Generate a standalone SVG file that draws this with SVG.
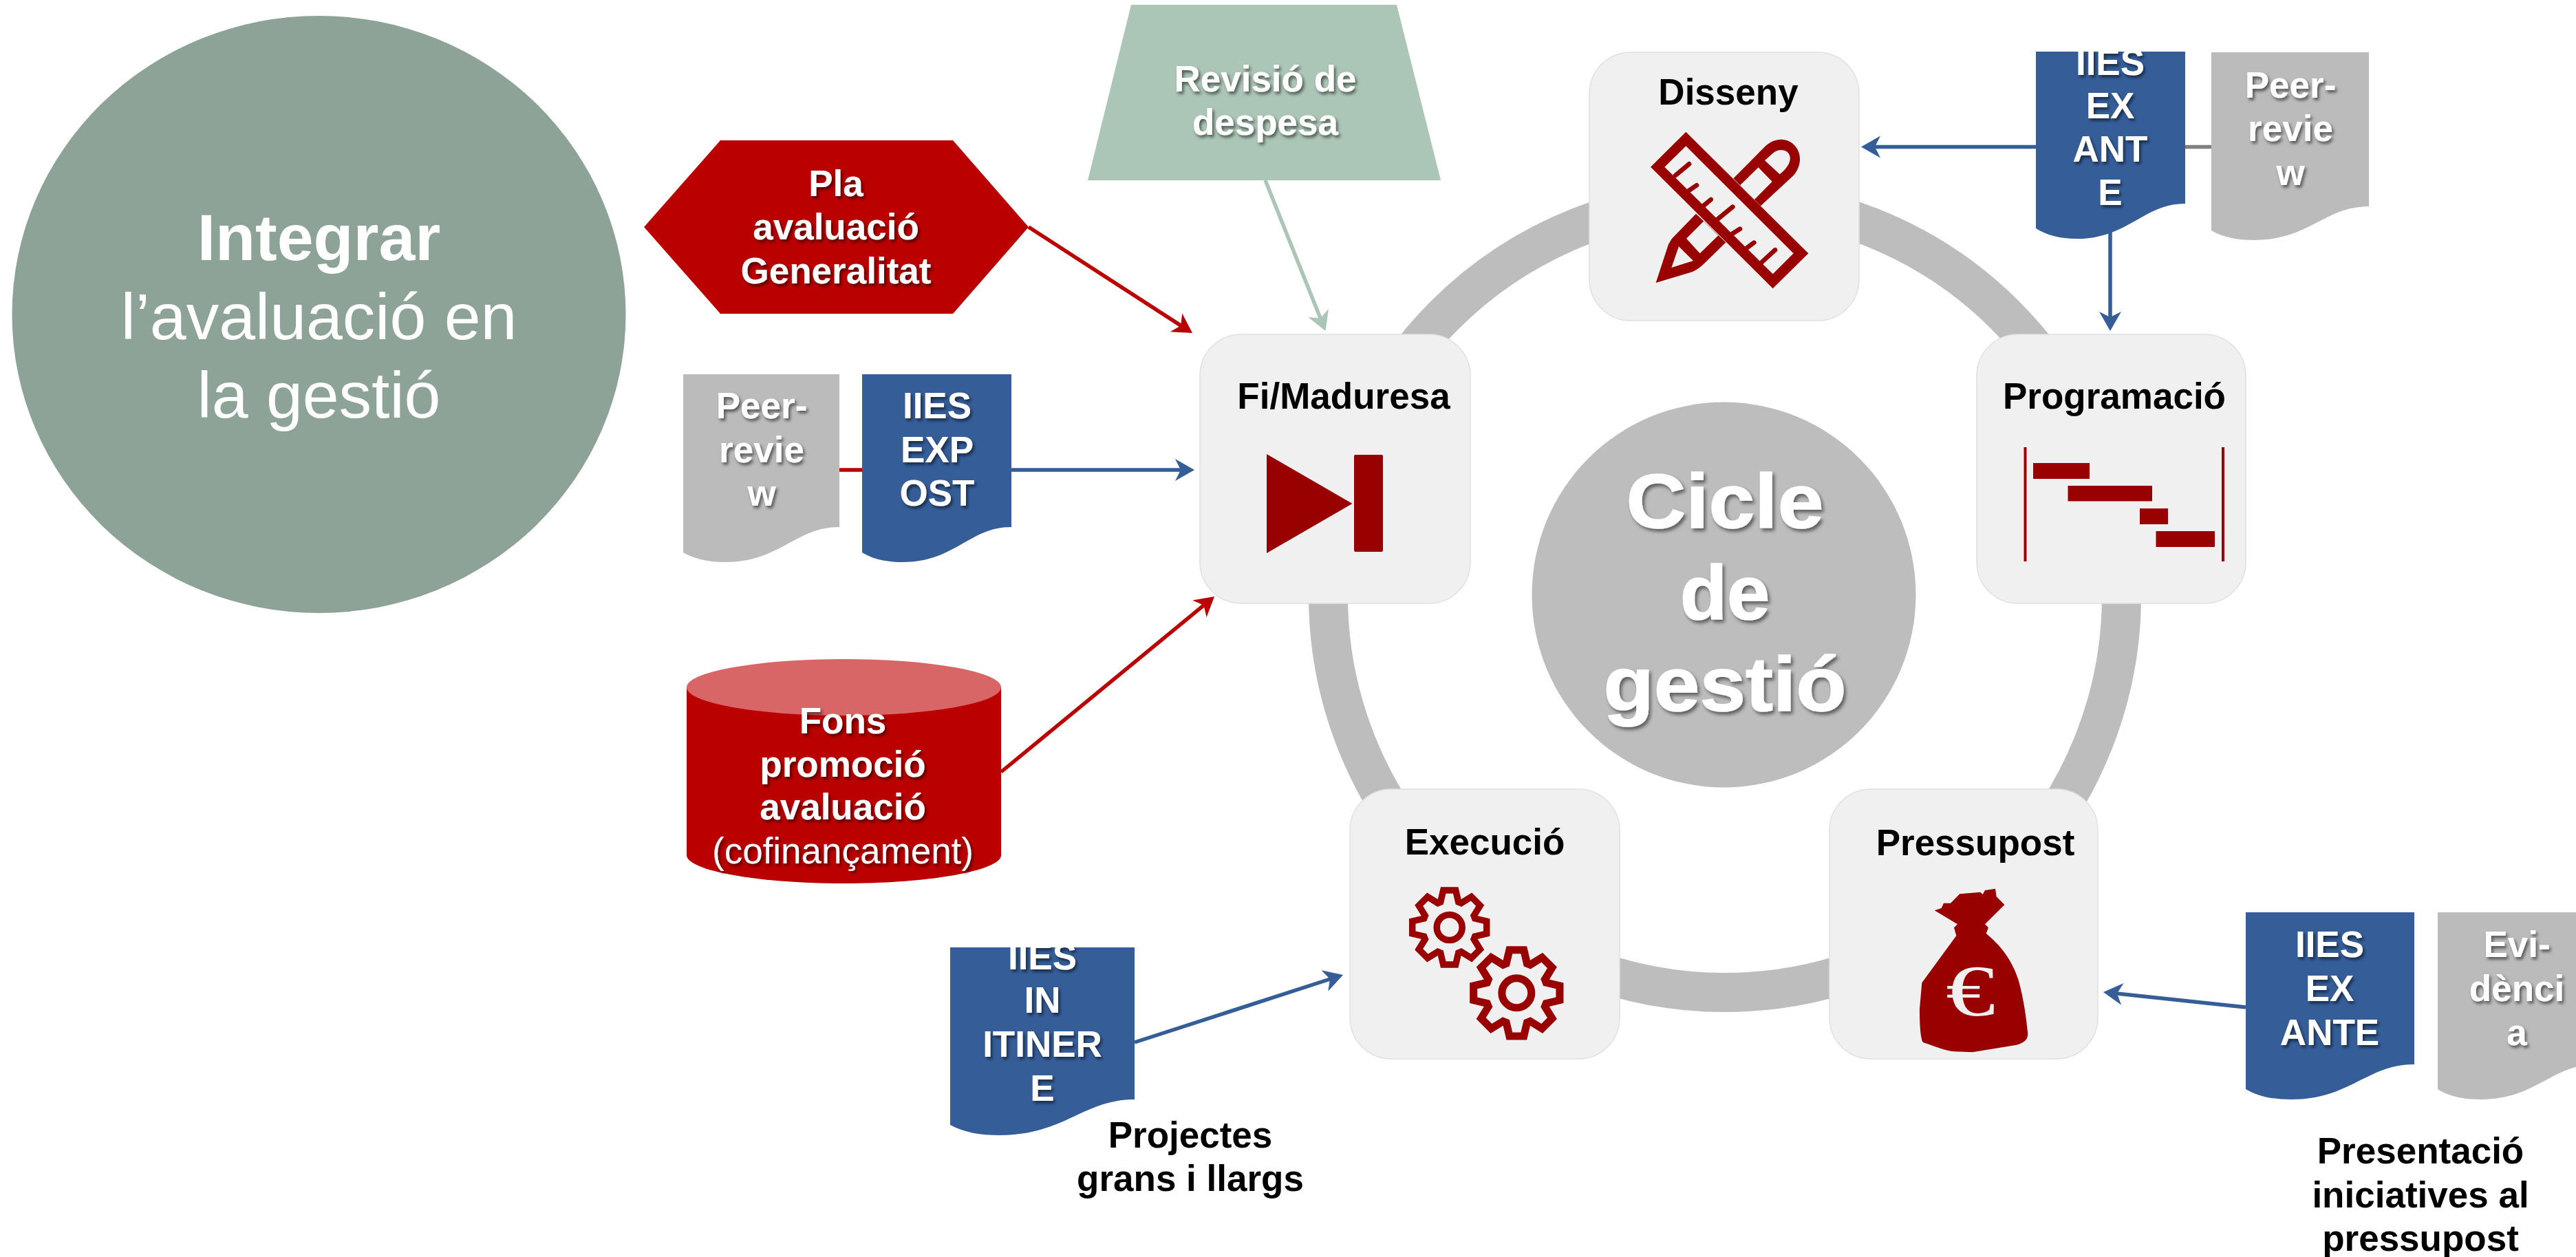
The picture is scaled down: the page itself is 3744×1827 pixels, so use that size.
<svg xmlns="http://www.w3.org/2000/svg" xmlns:xlink="http://www.w3.org/1999/xlink" width="3744" height="1827" viewBox="0 0 3744 1827">
<style>
text{font-family:"Liberation Sans",Arial,sans-serif;text-anchor:middle}
.b{font-weight:700;font-size:53px}
.k{fill:#000}
.w{fill:#fff;filter:url(#sh)}
.big{font-size:95px;fill:#fff}
.cyc{font-weight:700;font-size:112px;fill:#fff;stroke:#fff;stroke-width:1.5;filter:url(#sh2)}
.node{fill:#f0f0f0;stroke:#e0e0e0;stroke-width:1.5}
.blue{fill:#355e99}
.grey{fill:#bbb}
.ico{fill:#990000}
.gear{fill:none;stroke:#990000;stroke-width:9.5}
.ln{fill:none;stroke-width:5.5}
</style>
<defs>
<filter id="sh" x="-20%" y="-20%" width="140%" height="150%"><feDropShadow dx="2.5" dy="3.5" stdDeviation="2" flood-color="#000" flood-opacity=".55"/></filter>
<filter id="sh2" x="-20%" y="-20%" width="140%" height="150%"><feDropShadow dx="3" dy="4" stdDeviation="2.5" flood-color="#000" flood-opacity=".5"/></filter>
<marker id="aB" markerUnits="userSpaceOnUse" markerWidth="42" markerHeight="36" viewBox="0 0 42 36" refX="20" refY="18" orient="auto"><path d="M30,18L2,2L10,18L2,34Z" fill="#355e99"/></marker>
<marker id="aR" markerUnits="userSpaceOnUse" markerWidth="42" markerHeight="36" viewBox="0 0 42 36" refX="20" refY="18" orient="auto"><path d="M30,18L2,2L10,18L2,34Z" fill="#bb0000"/></marker>
<marker id="aG" markerUnits="userSpaceOnUse" markerWidth="42" markerHeight="36" viewBox="0 0 42 36" refX="20" refY="18" orient="auto"><path d="M30,18L2,2L10,18L2,34Z" fill="#abc5b6"/></marker>
<clipPath id="c1"><rect x="2940" y="75" width="260" height="280"/></clipPath>
<clipPath id="c2"><rect x="1360" y="1377" width="300" height="280"/></clipPath>
<g id="gearShape">
<polygon class="gear" points="37,-13 54,-9 54,9 37,13 35.4,17 44.5,31.8 31.8,44.5 17,35.4 13,37 9,54 -9,54 -13,37 -17,35.4 -31.8,44.5 -44.5,31.8 -35.4,17 -37,13 -54,9 -54,-9 -37,-13 -35.4,-17 -44.5,-31.8 -31.8,-44.5 -17,-35.4 -13,-37 -9,-54 9,-54 13,-37 17,-35.4 31.8,-44.5 44.5,-31.8 35.4,-17"/>
<circle class="gear" r="18.5"/>
</g>
</defs>

<g id="integrar">
<ellipse cx="463.5" cy="457" rx="446" ry="434" fill="#8da397"/>
<text x="463.5" y="378" class="big" font-weight="700">Integrar</text>
<text x="463.5" y="492.5" class="big">l’avaluació en</text>
<text x="463.5" y="607" class="big">la gestió</text>
</g>

<g id="ring"><circle cx="2507" cy="866" r="576.5" fill="none" stroke="#bdbdbd" stroke-width="57"/></g>

<g id="cicle">
<ellipse cx="2505.5" cy="864.5" rx="279" ry="280" fill="#bdbdbd"/>
<text x="2507" y="767" class="cyc" textLength="287" lengthAdjust="spacingAndGlyphs">Cicle</text>
<text x="2507" y="900" class="cyc">de</text>
<text x="2507" y="1033" class="cyc" textLength="353" lengthAdjust="spacingAndGlyphs">gestió</text>
</g>

<g id="connectors">
<line class="ln" x1="3176" y1="213.5" x2="3214" y2="213.5" stroke="#808080"/>
<line class="ln" x1="2959" y1="213.5" x2="2715" y2="213.5" stroke="#355e99" marker-end="url(#aB)"/>
<line class="ln" x1="3067" y1="332" x2="3067" y2="471" stroke="#355e99" marker-end="url(#aB)"/>
<line class="ln" x1="1220" y1="683" x2="1253" y2="683" stroke="#bb0000"/>
<line class="ln" x1="1470" y1="683" x2="1726" y2="683" stroke="#355e99" marker-end="url(#aB)"/>
<line class="ln" x1="1495" y1="330" x2="1724.6" y2="478.6" stroke="#bb0000" marker-end="url(#aR)"/>
<line class="ln" x1="1839" y1="262" x2="1922.8" y2="471.7" stroke="#abc5b6" marker-end="url(#aG)"/>
<line class="ln" x1="1455" y1="1122" x2="1757.3" y2="873.4" stroke="#bb0000" marker-end="url(#aR)"/>
<line class="ln" x1="1649" y1="1515" x2="1942.5" y2="1420" stroke="#355e99" marker-end="url(#aB)"/>
<line class="ln" x1="3264" y1="1464" x2="3067" y2="1443" stroke="#355e99" marker-end="url(#aB)"/>
</g>

<g id="disseny">
<rect class="node" x="2310" y="76" width="392" height="390" rx="60"/>
<text x="2512" y="152" class="b k">Disseny</text>
<g transform="translate(2380,180) scale(.33333)">
<path class="ico" fill-rule="evenodd" d="M211,35L745,565L590,718L57,188ZM211,97L118,188L590,655L680,565Z"/>
<path d="M165,225L225,175M225,290L258,268M290,355L320,330M350,415L415,362M415,478L447,458M478,540L508,518M540,605L600,550" fill="none" stroke="#990000" stroke-width="20" stroke-linecap="round"/>
<path class="ico" fill-rule="evenodd" d="M418,238L555,100C600,55 660,60 690,100C720,140 710,190 680,225L537,358ZM555,160L620,220C650,195 668,170 665,145C660,110 615,105 590,128ZM527,190L447,268L510,330L587,252Z"/>
<path class="ico" fill-rule="evenodd" d="M255,392L150,500L135,525L80,693L240,645C260,635 275,625 290,610L385,517ZM288,425L213,500L272,565L352,487ZM180,535L148,627L243,597Z"/>
</g>
</g>

<g id="programacio">
<rect class="node" x="2873" y="486" width="391" height="391" rx="60"/>
<text x="3073" y="594" class="b k">Programació</text>
<rect class="ico" x="2941.5" y="650" width="4" height="166"/>
<rect class="ico" x="3229" y="650" width="4" height="166"/>
<rect class="ico" x="2955" y="673" width="82" height="23"/>
<rect class="ico" x="3005.5" y="706" width="122.5" height="22.5"/>
<rect class="ico" x="3110" y="739" width="41" height="23"/>
<rect class="ico" x="3133.5" y="772" width="85.5" height="23"/>
</g>

<g id="fi">
<rect class="node" x="1744" y="486" width="393" height="391" rx="60"/>
<text x="1953" y="594" class="b k">Fi/Maduresa</text>
<polygon class="ico" points="1841,660 1965.5,732 1841,804"/>
<rect class="ico" x="1968" y="661" width="42" height="141" rx="2"/>
</g>

<g id="execucio">
<rect class="node" x="1962" y="1147" width="392" height="392" rx="60"/>
<text x="2158" y="1242" class="b k">Execució</text>
<use href="#gearShape" transform="translate(2106.7,1348)"/>
<use href="#gearShape" transform="translate(2204.3,1443.3) scale(1.16)"/>
</g>

<g id="pressupost">
<rect class="node" x="2659" y="1147" width="390" height="392" rx="60"/>
<text x="2871" y="1243" class="b k">Pressupost</text>
<g transform="translate(2760,1280) scale(.33333)">
<path class="ico" d="M155,130L185,120L195,98L225,98L265,58L355,50L365,60L375,42L420,35L425,70L460,105L375,190L390,205L380,230C440,280 490,340 520,430C545,520 555,600 561,660C565,690 550,705 513,716L321,748L240,745C200,742 150,720 105,705C95,690 90,640 90,560L100,445L250,240L240,205L255,190Z"/>
</g>
<text x="2864" y="1476" textLength="72" lengthAdjust="spacingAndGlyphs" style="font-family:'Liberation Serif',serif;font-size:105px;fill:#f0f0f0">€</text>
</g>

<g id="pla">
<polygon points="936,330 1047,204 1385,204 1495,330 1385,456 1047,456" fill="#bb0000"/>
<text class="b w" x="1215"><tspan x="1215" y="285">Pla</tspan><tspan x="1215" y="348">avaluació</tspan><tspan x="1215" y="412">Generalitat</tspan></text>
</g>

<g id="revisio">
<polygon points="1644,7 2030,7 2094,262 1581,262" fill="#abc5b6"/>
<text class="b w" x="1839"><tspan x="1839" y="133">Revisió de</tspan><tspan x="1839" y="196">despesa</tspan></text>
</g>

<g id="fons">
<path d="M998,999V1243C998,1265 1100,1284 1226.5,1284C1353,1284 1455,1265 1455,1243V999Z" fill="#bb0000"/>
<ellipse cx="1226.5" cy="999" rx="228.5" ry="41" fill="#d86666"/>
<text class="b w" x="1225"><tspan x="1225" y="1066">Fons</tspan><tspan x="1225" y="1129">promoció</tspan><tspan x="1225" y="1191">avaluació</tspan><tspan x="1225" y="1255" font-weight="400">(cofinançament)</tspan></text>
</g>

<g id="iies-top">
<path class="blue" d="M2959,75H3176V296C3115,296 3094,347 3018,347C2995,347 2975,342 2959,332Z"/>
<g clip-path="url(#c1)"><text class="b w"><tspan x="3067" y="109">IIES</tspan><tspan x="3067" y="172">EX</tspan><tspan x="3067" y="235">ANT</tspan><tspan x="3067" y="298">E</tspan></text></g>
</g>
<g id="peer-top">
<path class="grey" d="M3214,76H3443V300C3379,300 3356,349 3276,349C3252,349 3231,345 3214,335Z"/>
<text class="b w"><tspan x="3329" y="142">Peer-</tspan><tspan x="3329" y="205">revie</tspan><tspan x="3329" y="269">w</tspan></text>
</g>
<g id="peer-left">
<path class="grey" d="M993,544H1220V766C1156,766 1134,817 1054,817C1031,817 1010,813 993,803Z"/>
<text class="b w"><tspan x="1107" y="608">Peer-</tspan><tspan x="1107" y="672">revie</tspan><tspan x="1107" y="735">w</tspan></text>
</g>
<g id="iies-expost">
<path class="blue" d="M1253,544H1470V766C1409,766 1388,817 1312,817C1289,817 1269,813 1253,803Z"/>
<text class="b w"><tspan x="1362" y="608">IIES</tspan><tspan x="1362" y="672">EXP</tspan><tspan x="1362" y="735">OST</tspan></text>
</g>
<g id="iies-itinere">
<path class="blue" d="M1381,1377H1649V1598C1574,1598 1547,1650 1453,1650C1425,1650 1401,1646 1381,1635Z"/>
<g clip-path="url(#c2)"><text class="b w"><tspan x="1515" y="1409">IIES</tspan><tspan x="1515" y="1472">IN</tspan><tspan x="1515" y="1536">ITINER</tspan><tspan x="1515" y="1600">E</tspan></text></g>
<text class="b k"><tspan x="1730" y="1668">Projectes</tspan><tspan x="1730" y="1731">grans i llargs</tspan></text>
</g>
<g id="iies-exante">
<path class="blue" d="M3264,1326H3509V1547C3440,1547 3416,1598 3330,1598C3304,1598 3282,1594 3264,1583Z"/>
<text class="b w"><tspan x="3386" y="1391">IIES</tspan><tspan x="3386" y="1455">EX</tspan><tspan x="3386" y="1519">ANTE</tspan></text>
</g>
<g id="evidencia">
<path class="grey" d="M3543,1326H3773V1547C3709,1547 3686,1598 3605,1598C3581,1598 3560,1594 3543,1583Z"/>
<text class="b w"><tspan x="3658" y="1391">Evi-</tspan><tspan x="3658" y="1455">dènci</tspan><tspan x="3658" y="1519">a</tspan></text>
</g>
<g id="presentacio">
<text class="b k"><tspan x="3518" y="1691">Presentació</tspan><tspan x="3518" y="1755">iniciatives al</tspan><tspan x="3518" y="1818">pressupost</tspan></text>
</g>
</svg>
